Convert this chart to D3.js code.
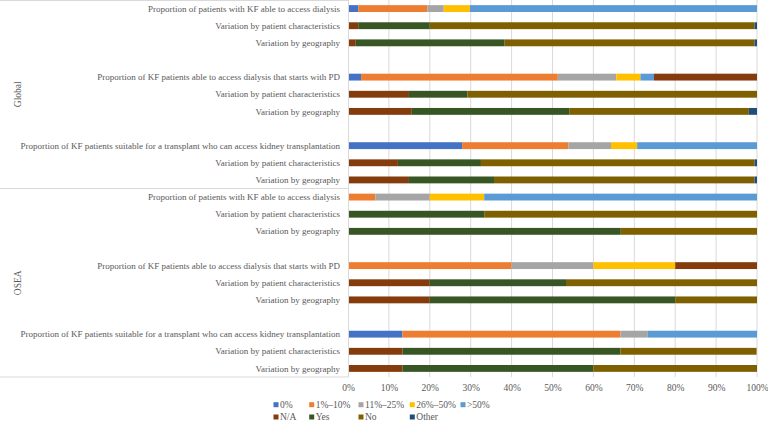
<!DOCTYPE html>
<html>
<head>
<meta charset="utf-8">
<script src="https://cdn.jsdelivr.net/npm/d3@7"></script>
<style>
  body { margin: 0; background: #fff; }
  text { font-family: "Liberation Serif", "Times New Roman", serif; fill: #595959; }
</style>
</head>
<body>
<svg width="768" height="423"></svg>
<script>
var groups = ["Global", "OSEA"];
var rowLabels = ["Proportion of patients with KF able to access dialysis", "Variation by patient characteristics", "Variation by geography",
                 "Proportion of KF patients able to access dialysis that starts with PD", "Variation by patient characteristics", "Variation by geography",
                 "Proportion of KF patients suitable for a transplant who can access kidney transplantation", "Variation by patient characteristics", "Variation by geography"];
// true = access-level row, false = variation row
var rowIsAccess = [true, false, false, true, false, false, true, false, false];

var seriesNames = ["0%", "1%\u201310%", "11%\u201325%", "26%\u201350%", ">50%", "N/A", "Yes", "No", "Other"];
var colors = ["#4472C4", "#ED7D31", "#A5A5A5", "#FFC000", "#5B9BD5", "#843C0C", "#375623", "#7F6000", "#1F4E79"];

// 18 rows: Global 9 rows then OSEA 9 rows
var zero  = [2.5, 0, 0, 3.2, 0, 0, 27.9, 0, 0,   0, 0, 0,   0, 0, 0,  13.3, 0, 0];
var low   = [16.9, 0, 0, 48.1, 0, 0, 26.0, 0, 0,  6.7, 0, 0,  40, 0, 0,  53.3, 0, 0];
var mid   = [4.0, 0, 0, 14.3, 0, 0, 10.4, 0, 0,   13.3, 0, 0, 20, 0, 0,  6.7, 0, 0];
var high  = [6.4, 0, 0, 5.9, 0, 0, 6.4, 0, 0,     13.3, 0, 0, 20, 0, 0,  0, 0, 0];
var top50 = [70.2, 0, 0, 3.3, 0, 0, 29.3, 0, 0,   66.7, 0, 0, 0, 0, 0,   26.7, 0, 0];
var na    = [0, 2.5, 1.9, 25.2, 14.9, 15.6, 0, 12.2, 14.9,  0, 0, 0, 20, 20, 20, 0, 13.3, 13.3];
var yes   = [0, 17.5, 36.4, 0, 14.3, 38.6, 0, 20.3, 20.8,   0, 33.3, 66.7, 0, 33.3, 60, 0, 53.3, 46.7];
var no    = [0, 79.4, 61.1, 0, 70.8, 43.8, 0, 66.9, 63.7,   0, 66.7, 33.3, 0, 46.7, 20, 0, 33.3, 40];
var other = [0, 0.6, 0.6, 0, 0, 2.0, 0, 0.6, 0.6,          0, 0, 0, 0, 0, 0, 0, 0, 0];
var xTicks = [0, 10, 20, 30, 40, 50, 60, 70, 80, 90, 100];

var series = [zero, low, mid, high, top50, na, yes, no, other];
var accessOrder = [0, 1, 2, 3, 4, 5];
var variationOrder = [5, 6, 7, 8];

var svg = d3.select("svg");
var left = 348, right = 757, plotTop = 0, plotBottom = 377;

// build row list with blank spacer rows between the three blocks
var rows = [];
groups.forEach(function(g, gi) {
  rowLabels.forEach(function(lab, li) {
    if (li > 0 && li % 3 === 0) rows.push({id: g + "-b" + li, blank: true, group: g});
    rows.push({id: g + "-" + li, label: lab, group: g, idx: gi * 9 + li, access: rowIsAccess[li]});
  });
});

var x = d3.scaleLinear().domain([0, 100]).range([left, right]);
var y = d3.scaleBand().domain(rows.map(function(d) { return d.id; }))
  .range([plotTop, plotBottom]).paddingInner(0.6).paddingOuter(0.3);

// gridlines
svg.append("g").selectAll("line").data(xTicks.slice(1)).enter().append("line")
  .attr("x1", function(d) { return x(d); }).attr("x2", function(d) { return x(d); })
  .attr("y1", plotTop).attr("y2", plotBottom)
  .attr("stroke", "#d9d9d9").attr("stroke-width", 1);

// bars
var segs = [];
rows.forEach(function(r) {
  if (r.blank) return;
  var order = r.access ? accessOrder : variationOrder;
  var cum = 0;
  order.forEach(function(s) {
    var v = series[s][r.idx];
    if (v > 0) segs.push({row: r.id, s: s, x0: cum, x1: cum + v});
    cum += v;
  });
});
svg.append("g").selectAll("rect").data(segs).enter().append("rect")
  .attr("x", function(d) { return x(d.x0); })
  .attr("width", function(d) { return x(d.x1) - x(d.x0); })
  .attr("y", function(d) { return y(d.row); })
  .attr("height", y.bandwidth())
  .attr("fill", function(d) { return colors[d.s]; });

// category axis line and group separators
svg.append("line").attr("x1", left + 0.5).attr("x2", left + 0.5).attr("y1", plotTop).attr("y2", plotBottom)
  .attr("stroke", "#d9d9d9");
var midY = (plotTop + plotBottom) / 2;
[plotTop + 0.5, midY, plotBottom].forEach(function(yy) {
  svg.append("line").attr("x1", 0).attr("x2", left).attr("y1", yy).attr("y2", yy).attr("stroke", "#d9d9d9");
});

// row labels
svg.append("g").selectAll("text").data(rows.filter(function(r) { return !r.blank; })).enter().append("text")
  .attr("x", 340).attr("y", function(d) { return y(d.id) + y.bandwidth() / 2; })
  .attr("dy", "0.35em").attr("text-anchor", "end").attr("font-size", "9px")
  .text(function(d) { return d.label; });

// group labels
groups.forEach(function(g, gi) {
  var cy = plotTop + (gi + 0.5) * (plotBottom - plotTop) / 2;
  svg.append("text").attr("transform", "translate(18," + cy + ") rotate(-90)")
    .attr("text-anchor", "middle").attr("dy", "0.35em").attr("font-size", "9.5px").text(g);
});

// x axis
var xAxis = svg.append("g").attr("transform", "translate(0," + plotBottom + ")")
  .call(d3.axisBottom(x).tickValues(xTicks).tickSize(0).tickPadding(7).tickFormat(function(d) { return d + "%"; }));
xAxis.select(".domain").remove();
xAxis.selectAll("text").attr("font-size", "9.5px").attr("font-family", "Liberation Serif").attr("fill", "#595959");

// legend
var legCols = [276, 311.7, 361, 412.3, 463];
var legend = seriesNames.map(function(n, i) {
  return {name: n, color: colors[i], col: i < 5 ? i : i - 5, line: i < 5 ? 0 : 1};
});
var lg = svg.append("g").selectAll("g").data(legend).enter().append("g")
  .attr("transform", function(d) { return "translate(" + legCols[d.col] + "," + (404.7 + d.line * 12.3) + ")"; });
lg.append("rect").attr("x", -2.5).attr("y", -2.5).attr("width", 5).attr("height", 5)
  .attr("fill", function(d) { return d.color; });
lg.append("text").attr("x", 4).attr("dy", "0.35em").attr("font-size", "9.5px").text(function(d) { return d.name; });
</script>
</body>
</html>
